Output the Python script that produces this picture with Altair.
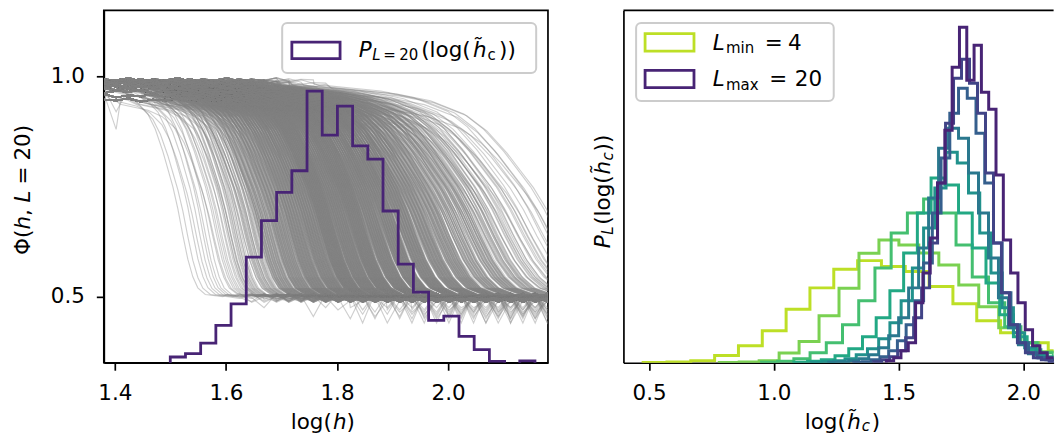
import altair as alt
import pandas as pd

FONT = "DejaVu Sans"
FS = 21.5
FS_SUB = 15

# ------------------------------------------------------------------ left panel data
left_x_domain = [1.38, 2.18]
left_y_domain = [0.35, 1.15]
left_x_ticks = [1.4, 1.6, 1.8, 2.0]
left_y_ticks = [0.5, 1.0]

# P_{L=20}(log h_c) histogram drawn in Phi units (twin-axis look)
hist20_start = 1.4997
hist20_width = 0.02737
hist20_phi = [0.363, 0.3705, 0.3947, 0.4346, 0.4838, 0.5896, 0.6725, 0.7369, 0.7859,
              0.9665, 0.8667, 0.9325, 0.8425, 0.8124, 0.6945, 0.5737, 0.5103, 0.4464,
              0.4559, 0.4097, 0.3796, 0.353, 0.343, 0.354]
hist20_base = 0.30

# number of Phi curves whose crossing falls in each histogram bin, and how wide the drop is
curves_per_bin = [3, 5, 8, 16, 22, 42, 54, 67, 74, 102, 86, 98, 82, 80, 70, 55, 45, 32, 30, 20, 12, 8, 4, 5]
curve_spread_per_bin = [0.45, 0.45, 0.5, 0.5, 0.55, 0.58, 0.6, 0.62, 0.64, 0.66, 0.68, 0.7, 0.74, 0.78,
                        0.84, 0.9, 0.95, 1.0, 1.05, 1.1, 1.15, 1.2, 1.2, 1.2]
# shape of one Phi curve, relative to its crossing point
template_dx = [-0.3, -0.2, -0.15, -0.1, -0.07, -0.04, -0.02, 0.0, 0.02, 0.04, 0.06, 0.08, 0.1, 0.13, 0.2]
template_phi = [0.975, 0.96, 0.945, 0.915, 0.88, 0.83, 0.79, 0.75, 0.70, 0.64, 0.585, 0.545, 0.52, 0.505, 0.5]
plateau_top = 0.985
top_offsets = [0.0, -0.03, 0.01, -0.06, -0.015, 0.015, -0.04, 0.005, -0.02, -0.08, 0.0, -0.01]
grid_start = 1.38
grid_step = 0.0222
top_jitter = [0.0, 0.003, -0.004, 0.002, -0.002, 0.005, -0.003, 0.001]
low_jitter = [-0.004, 0.006, -0.010, 0.002, -0.007, 0.008, -0.013, 0.0, 0.004, -0.009, 0.005,
              -0.002, -0.011, 0.007, -0.005, 0.003]
low_spike_depth = [0.035, 0.05, 0.025, 0.06, 0.04, 0.03, 0.045]
# a few noisy samples at small h: (curve, grid index, Phi)
top_spikes = [(0, 0, 1.14), (2, 1, 0.74), (4, 2, 0.84), (6, 1, 0.88), (9, 3, 0.86), (12, 2, 1.015),
              (15, 3, 1.02), (1, 2, 0.80), (20, 1, 0.92), (25, 4, 0.9)]

# ------------------------------------------------------------------ right panel data
right_x_domain = [0.397, 2.121]
right_y_domain = [0, 353]
right_x_ticks = [0.5, 1.0, 1.5, 2.0]
L_values = [4, 6, 8, 10, 12, 14, 16, 18, 20]
L_colors = ["#bddf26", "#7ad151", "#44bf70", "#22a884", "#21918c", "#2a788e", "#355f8d",
            "#414487", "#482475"]
hist_start = [0.476, 0.781, 0.95, 1.08, 1.15, 1.22, 1.32, 1.40, 1.4507]
hist_width = [0.0955, 0.08, 0.065, 0.055, 0.045, 0.04, 0.035, 0.032, 0.0293]
hist_L4 = [0.3, 0.7, 2, 7.3, 17, 32, 53.7, 75, 93.7, 102.3, 96.3, 91.3, 76.3, 59, 42, 30, 20, 12, 7, 4, 2, 1]
hist_L6 = [0.3, 0.8, 2, 9.7, 21.3, 47, 74.7, 109.7, 123, 118, 110, 98, 78, 56, 35, 20, 11, 6, 3, 1.5]
hist_L8 = [0.5, 1.5, 4, 10, 20, 38, 62, 95, 130, 150, 164, 150, 118, 86, 60, 36, 20, 10, 5, 2]
hist_L10 = [0.5, 1.5, 3, 7, 14, 26, 45, 72, 110, 150, 185, 178, 150, 115, 80, 48, 26, 13, 6, 3]
hist_L12 = [0.5, 1, 2, 4, 8, 14, 24, 40, 62, 95, 135, 175, 211, 200, 170, 130, 90, 55, 30, 15, 8, 4, 2]
hist_L14 = [0.5, 1, 2, 4, 8, 15, 27, 45, 75, 115, 165, 215, 235, 225, 190, 150, 105, 65, 35, 18, 9, 5, 3, 1]
hist_L16 = [0.5, 1, 3, 6, 12, 22, 38, 62, 100, 150, 205, 250, 275, 265, 230, 180, 120, 70, 38, 20, 10, 5, 3, 1]
hist_L18 = [1, 3, 6, 12, 25, 45, 75, 120, 180, 240, 285, 304, 280, 250, 190, 120, 70, 38, 20, 10, 5, 3, 1, 1]
hist_L20 = [2, 5, 12, 20, 60, 90, 125, 180, 233, 296, 336, 283, 318, 271, 254, 188, 123, 90, 60, 33, 17, 10, 5, 3, 1]
hist_heights = [hist_L4, hist_L6, hist_L8, hist_L10, hist_L12, hist_L14, hist_L16, hist_L18, hist_L20]

W, H = 445, 353
WR = 431
one = alt.Data(values=[{"k": 0}])


def step_table(start, width, heights, base):
    xs, ys = [start], [base]
    for i, h in enumerate(heights):
        xs += [start + i * width, start + (i + 1) * width]
        ys += [h, h]
    xs.append(start + len(heights) * width)
    ys.append(base)
    return pd.DataFrame({"x": xs, "y": ys, "i": range(len(xs))})


def txt(text, x, y, size=FS, italic=False, angle=0):
    kw = dict(text=text, align="left", baseline="alphabetic", font=FONT, fontSize=size,
              fontStyle="italic" if italic else "normal", color="black")
    if angle:
        kw["angle"] = angle
    return alt.Chart(one).mark_text(**kw).encode(x=alt.value(x), y=alt.value(y))


def box(x, x2, y, y2, stroke, sw, fill="white", fo=0.0, r=0):
    return alt.Chart(one).mark_rect(fill=fill, fillOpacity=fo, stroke=stroke, strokeWidth=sw,
                                    cornerRadius=r).encode(
        x=alt.value(x), x2=alt.value(x2), y=alt.value(y), y2=alt.value(y2))


# ------------------------------------------------------------------ build the Phi curves
spikes = {(c, j): v for c, j, v in top_spikes}
rows = []
cid = 0
for b, n in enumerate(curves_per_bin):
    s = curve_spread_per_bin[b]
    for k in range(n):
        c = hist20_start + (b + (k + 0.5) / n) * hist20_width
        f = 1 + top_offsets[cid % len(top_offsets)]
        first = c + template_dx[0] * s
        last = c + template_dx[-1] * s
        pts = []
        j = 0
        while True:
            g = grid_start + j * grid_step
            if g >= first:
                break
            v = 0.5 + (plateau_top - 0.5) * f + top_jitter[(cid * 3 + j) % len(top_jitter)]
            pts.append((g, spikes.get((cid, j), v)))
            j += 1
        for dx, p in zip(template_dx, template_phi):
            pts.append((c + dx * s, 0.5 + (p - 0.5) * f))
        j = 0
        while True:
            g = grid_start + j * grid_step
            if g > 2.22:
                break
            if g > last:
                v = 0.5 + low_jitter[(cid * 5 + j) % len(low_jitter)]
                if cid % 23 == 3 and (j + cid) % 4 == 0:
                    v = 0.5 - low_spike_depth[(cid + j) % len(low_spike_depth)]
                pts.append((g, v))
            j += 1
        for i, (x, y) in enumerate(pts):
            rows.append({"curve": cid, "i": i, "x": round(x, 4), "y": round(y, 4)})
        cid += 1
curves = pd.DataFrame(rows)

lx = alt.Scale(domain=left_x_domain, nice=False, zero=False)
ly = alt.Scale(domain=left_y_domain, nice=False, zero=False)

curve_layer = alt.Chart(curves).mark_line(
    clip=True, color="#808080", opacity=0.38, strokeWidth=1.15
).encode(
    x=alt.X("x:Q", scale=lx, axis=alt.Axis(values=left_x_ticks, format=".1f", title=None)),
    y=alt.Y("y:Q", scale=ly, axis=alt.Axis(values=left_y_ticks, format=".1f", title=None)),
    detail="curve:N",
    order="i:Q",
)

h20 = step_table(hist20_start, hist20_width, hist20_phi, hist20_base)
hist20_layer = alt.Chart(h20).mark_line(clip=True, color="#482475", strokeWidth=2.8).encode(
    x=alt.X("x:Q", scale=lx), y=alt.Y("y:Q", scale=ly), order="i:Q")

left_parts = [curve_layer, hist20_layer,
              box(178.7, 433.2, 12.7, 62.7, "#cccccc", 2, fo=0.8, r=5),
              box(188.4, 236.7, 31.7, 48.3, "#482475", 2.8),
              txt("P", 255.5, 46.7, italic=True),
              txt("L", 269, 50, FS_SUB, italic=True),
              txt("=", 280, 50, FS_SUB),
              txt("20", 296, 50, FS_SUB),
              txt("(log(", 318, 46.7),
              txt("h\u0303", 370, 46.7, italic=True),
              txt("c", 384.5, 50, FS_SUB),
              txt("))", 396, 46.7),
              # x title
              txt("log(", 187.3, 419),
              txt("h", 229.5, 419, italic=True),
              txt(")", 243.1, 419),
              # y title (rotated)
              txt("\u03a6(", -73.7, 245, angle=270),
              txt("h", -73.7, 245 - 25.4, italic=True, angle=270),
              txt(",", -73.7, 245 - 39.0, angle=270),
              txt("L", -73.7, 245 - 52.6, italic=True, angle=270),
              txt("=", -73.7, 245 - 70.6, angle=270),
              txt("20)", -73.7, 245 - 94.6, angle=270),
              ]
left = alt.layer(*left_parts).properties(width=W, height=H)

# ------------------------------------------------------------------ right panel
rx = alt.Scale(domain=right_x_domain, nice=False, zero=False)
ry = alt.Scale(domain=right_y_domain, nice=False, zero=False)
right_parts = []
for n, (L, col, st, w, hh) in enumerate(zip(L_values, L_colors, hist_start, hist_width, hist_heights)):
    d = step_table(st, w, hh, 0)
    if n == 0:
        enc = dict(
            x=alt.X("x:Q", scale=rx, axis=alt.Axis(values=right_x_ticks, format=".1f", title=None)),
            y=alt.Y("y:Q", scale=ry, axis=alt.Axis(ticks=False, labels=False, title=None)),
            order="i:Q")
    else:
        enc = dict(x=alt.X("x:Q", scale=rx), y=alt.Y("y:Q", scale=ry), order="i:Q")
    right_parts.append(alt.Chart(d).mark_line(clip=True, color=col, strokeWidth=3).encode(**enc))

right_parts += [
    alt.Chart(one).mark_rule(color="black", strokeWidth=1.7).encode(
        x=alt.value(0), x2=alt.value(WR), y=alt.value(0)),
    box(12.7, 210.7, 12.7, 90.7, "#cccccc", 2, fo=0.8, r=5),
    box(21.7, 70.7, 23.3, 40.7, L_colors[0], 2.8),
    box(21.7, 70.7, 60, 77.3, L_colors[-1], 2.8),
    txt("L", 89.4, 39.3, italic=True),
    txt("min", 102.7, 42.7, FS_SUB),
    txt("=", 141.7, 39.3),
    txt("4", 165, 39.3),
    txt("L", 89.4, 76, italic=True),
    txt("max", 102.7, 79.4, FS_SUB),
    txt("=", 146, 76),
    txt("20", 171.7, 76),
    # x title
    txt("log(", 181.7, 419),
    txt("h\u0303", 224.2, 419, italic=True),
    txt("c", 238.7, 421.5, FS_SUB, italic=True),
    txt(")", 248.7, 419),
    # y title (rotated)
    txt("P", -13.8, 238.3, italic=True, angle=270),
    txt("L", -10.5, 238.3 - 13.5, FS_SUB, italic=True, angle=270),
    txt("(log(", -13.8, 238.3 - 23.5, angle=270),
    txt("h\u0303", -13.8, 238.3 - 74, italic=True, angle=270),
    txt("c", -10.5, 238.3 - 88, FS_SUB, italic=True, angle=270),
    txt("))", -13.8, 238.3 - 97, angle=270),
]
right = alt.layer(*right_parts).properties(width=WR, height=H, view=alt.ViewBackground(stroke=None))

chart = alt.hconcat(left, right, spacing=75.6, bounds="flush").properties(
    padding={"left": 4, "top": 1, "right": 0, "bottom": 0}
).configure_view(stroke="black", strokeWidth=1.7).configure_axis(
    labelFont=FONT, labelFontSize=FS, labelColor="black", tickColor="black", tickWidth=1.7,
    tickSize=7.5, domainColor="black", domainWidth=1.7, grid=False, labelFlush=False,
    labelOverlap=False
).configure_axisX(labelPadding=12).configure_axisY(labelPadding=12)

chart.save("out.html", embed_options={"renderer": "svg", "actions": False})
